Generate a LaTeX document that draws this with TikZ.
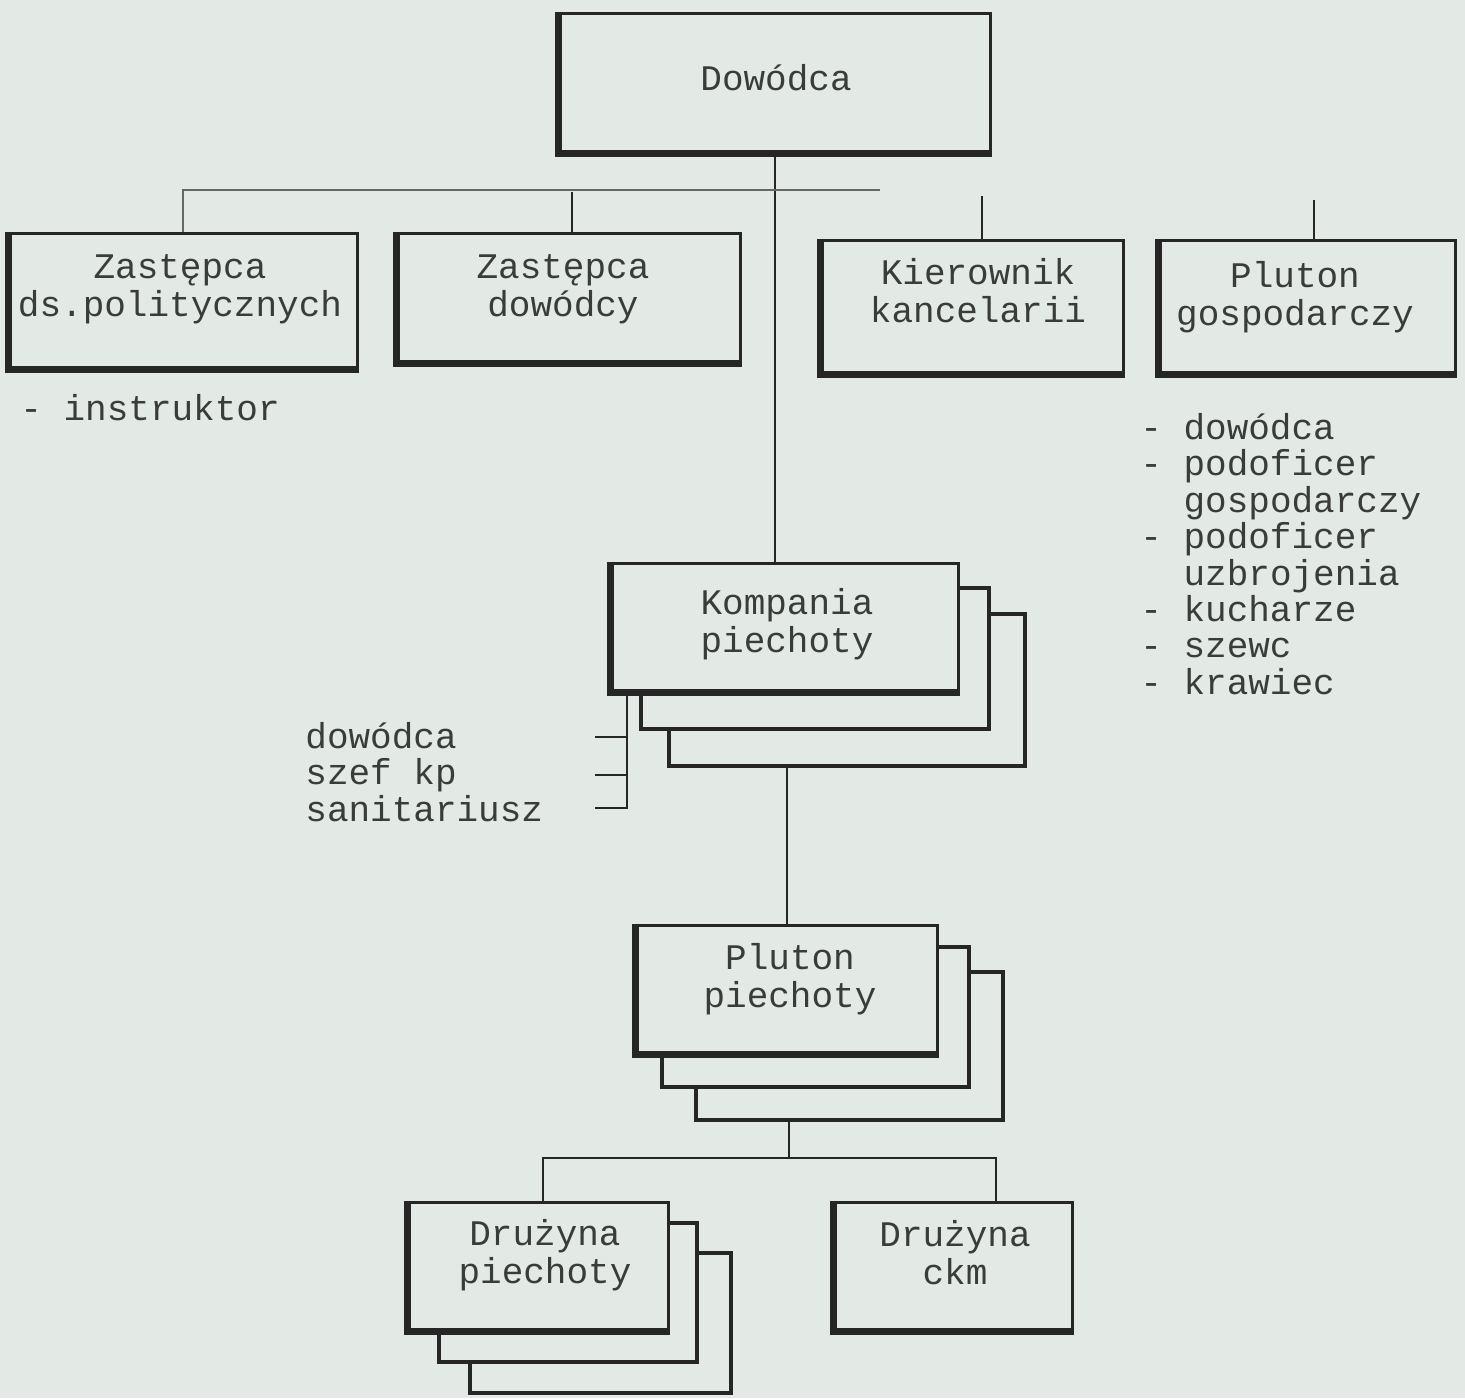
\documentclass[tikz,border=0pt]{standalone}
\usepackage{fontspec}
\newfontfamily\tw{Liberation Mono}
\usetikzlibrary{fit}
\definecolor{bg}{HTML}{E3EAE5}
\definecolor{ink}{HTML}{262626}
\definecolor{typeink}{HTML}{3A3C3B}
\begin{document}
\begin{tikzpicture}[x=0.5pt,y=-0.5pt,
  box/.style={draw=ink, line width=1.5pt, fill=bg, inner sep=0pt},
  shadowbox/.style={draw=ink, line width=2pt, fill=bg, inner sep=0pt},
  heavy/.style={draw=ink, line width=3.8pt, line join=miter},
  lbl/.style={font=\tw\fontsize{18pt}{19pt}\selectfont, align=center, inner sep=0pt, text=typeink},
  lst/.style={font=\tw\fontsize{18pt}{18.2pt}\selectfont, align=left, inner sep=0pt, text=typeink},
  conn/.style={draw=ink, line width=1pt},
  faint/.style={draw=ink!70, line width=1pt}]
\fill[bg] (0,0) rectangle (1465,1398);
\useasboundingbox (0,0) rectangle (1465,1398);

% junction coordinates
\coordinate (tL) at (183,190);
\coordinate (tR) at (880,190);
\coordinate (s2) at (572,192);
\coordinate (s3) at (982,196);
\coordinate (s4) at (1314,200);
\coordinate (hM) at (789,1158);
\coordinate (hL) at (543,1158);
\coordinate (hR) at (996,1158);
\coordinate (bB) at (627,808);
\coordinate (t1) at (595,737);
\coordinate (t2) at (595,775);
\coordinate (t3) at (595,808);

% top level
\node[box, fit={(560,13) (990,152)}] (dow) {};
\node[lbl] (dowT) at (776,78) {Dowódca};
\node[box, fit={(10,233) (357,368)}] (zp) {};
\node[lbl] (zpT) at (180,289) {Zastępca\\ds.politycznych};
\node[box, fit={(398,233) (740,362)}] (zd) {};
\node[lbl] (zdT) at (563,289) {Zastępca\\dowódcy};
\node[box, fit={(822,240) (1123,373)}] (kk) {};
\node[lbl] (kkT) at (978,291) {Kierownik\\kancelarii};
\node[box, fit={(1160,240) (1455,373)}] (pg) {};
\node[lbl] (pgT) at (1295,297) {Pluton\\gospodarczy};

% Kompania stack
\node[shadowbox, fit={(669,614) (1025,766)}] (komp3) {};
\node[shadowbox, fit={(641,588) (989,729)}] (komp2) {};
\node[box, fit={(612,563) (958,691)}] (komp) {};
\node[lbl] (kompT) at (787,624) {Kompania\\piechoty};

% Pluton piechoty stack
\node[shadowbox, fit={(696,972) (1003,1120)}] (plut3) {};
\node[shadowbox, fit={(662,947) (969,1087)}] (plut2) {};
\node[box, fit={(637,925) (937,1053)}] (plut) {};
\node[lbl] (plutT) at (790,979) {Pluton\\piechoty};

% Druzyny
\node[shadowbox, fit={(470,1253) (731,1393)}] (dp3) {};
\node[shadowbox, fit={(439,1223) (697,1362)}] (dp2) {};
\node[box, fit={(409,1202) (668,1330)}] (dp) {};
\node[lbl] (dpT) at (545,1255) {Drużyna\\piechoty};
\node[box, fit={(835,1202) (1072,1330)}] (dc) {};
\node[lbl] (dcT) at (955,1253) {Drużyna\\ckm};

% heavy left and bottom edges
\foreach \n in {dow,zp,zd,kk,pg,komp,plut,dp,dc}
  \draw[heavy] (\n.north west) -- (\n.south west) -- (\n.south east);

% connectors
\draw[conn] (dow.south) -- (dow.south |- komp.north);
\draw[faint] (zp.north -| tL) -- (tL) -- (tR);
\draw[conn] (s2) -- (s2 |- zd.north);
\draw[conn] (s3) -- (s3 |- kk.north);
\draw[conn] (s4) -- (s4 |- pg.north);
\draw[conn] (plut.north) -- (plut.north |- komp3.south);
\draw[conn] (hM |- plut3.south) -- (hM);
\draw[conn] (hL |- dp.north) -- (hL) -- (hR) -- (hR |- dc.north);
\draw[conn] (bB |- komp.south) -- (bB) -- (t3);
\draw[conn] (t1) -- (t1 -| bB);
\draw[conn] (t2) -- (t2 -| bB);

% lists
\node[lst, anchor=west] (instr) at (20,408) {- instruktor};
\node[lst, anchor=west] (kompList) at (305,772) {dowódca\\szef kp\\sanitariusz};
\node[lst, anchor=north west] (pgList) at (1140,413) {%
\makebox[1.2em][l]{-}dowódca\\
\makebox[1.2em][l]{-}podoficer\\
\hspace*{1.2em}gospodarczy\\
\makebox[1.2em][l]{-}podoficer\\
\hspace*{1.2em}uzbrojenia\\
\makebox[1.2em][l]{-}kucharze\\
\makebox[1.2em][l]{-}szewc\\
\makebox[1.2em][l]{-}krawiec};
\end{tikzpicture}
\end{document}
